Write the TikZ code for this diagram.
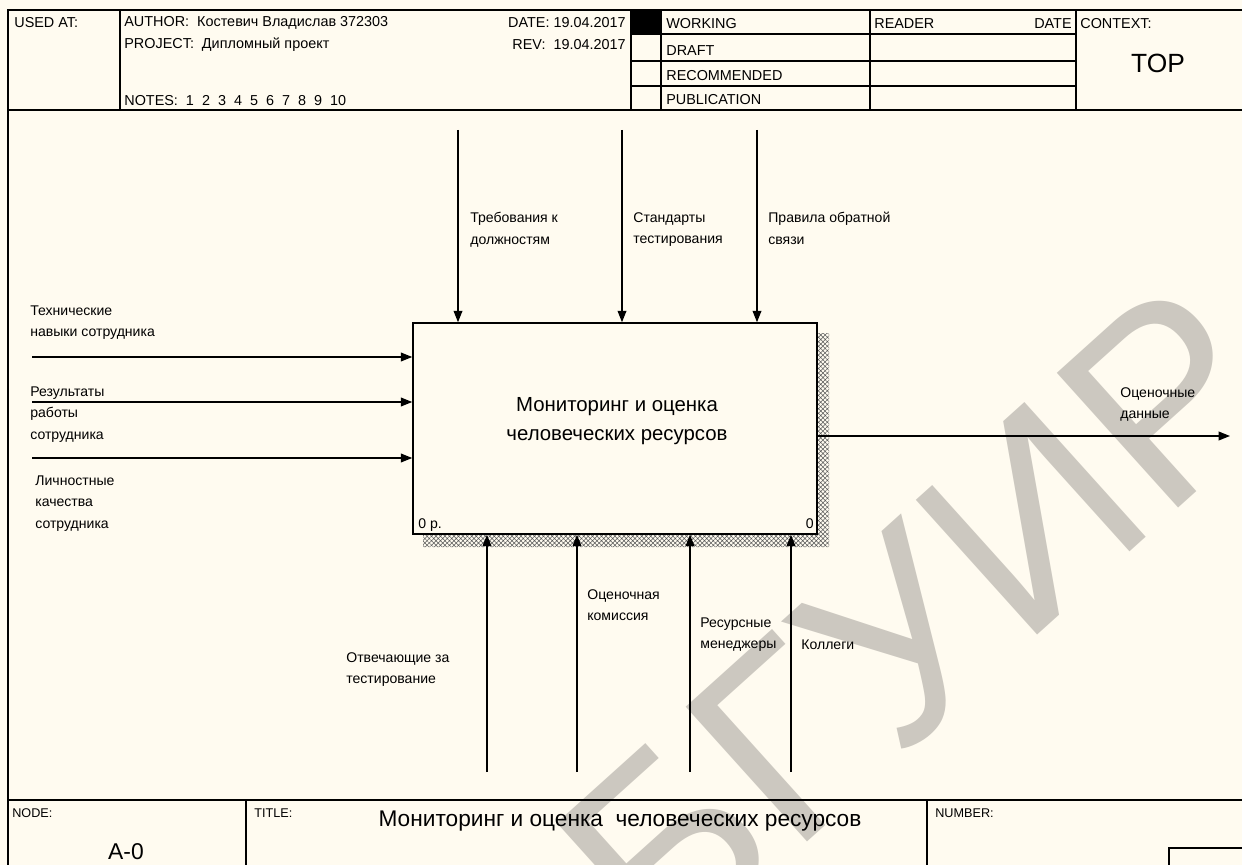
\documentclass[tikz,border=0pt]{standalone}
\usepackage{fontspec}
\setmainfont{Liberation Sans}
\usepackage{tikz}
\usetikzlibrary{arrows.meta, patterns.meta, positioning, calc}
\definecolor{paper}{RGB}{255,251,240}
\definecolor{stamp}{RGB}{204,200,192}
\tikzset{>={Triangle[length=6.5pt,width=5pt]}}
\tikzset{frame/.style={line width=1.1pt}}
\tikzset{rule/.style={line width=0.8pt}}
\tikzset{arr/.style={->, line width=0.75pt}}
\tikzset{lbl/.style={anchor=north west, inner sep=0pt, align=left,
    font=\fontsize{8}{12.4}\selectfont}}
\tikzset{hdr/.style={anchor=west, inner sep=0pt, font=\fontsize{8.2}{10}\selectfont}}
\tikzset{ftr/.style={anchor=west, inner sep=0pt, font=\fontsize{7.2}{9}\selectfont}}

\begin{document}
\begin{tikzpicture}[x=0.02cm, y=-0.02cm]
  \useasboundingbox (0,0) rectangle (1242,865);
  \fill[paper] (0,0) rectangle (1242,865);
  % watermark
  \node[stamp, rotate=42, inner sep=0pt, font=\fontsize{150}{150}\selectfont]
    (stampword) at (918,622) {БГУИР};

  % header
  \draw[frame] (8,865) -- (8,10) -- (1242,10);
  \draw[frame] (8,110) -- (1242,110);
  \draw[rule] (120,10) -- (120,110);
  \draw[rule] (631,10) -- (631,110);
  \draw[rule] (661,10) -- (661,110);
  \draw[rule] (870,10) -- (870,110);
  \draw[rule] (1076,10) -- (1076,110);
  \foreach \y in {34,61,86} \draw[rule] (631,\y) -- (1076,\y);
  \fill (631,10) rectangle (661,34);
  \node[hdr] (usedat) at (14,23) {USED AT:};
  \node[hdr] (author) at (124,23) {AUTHOR:\ \ Костевич Владислав 372303};
  \node[hdr] (project) at (124,45) {PROJECT:\ \ Дипломный проект};
  \node[hdr] (notes) at (124,101) {NOTES:\ \ 1\ \ 2\ \ 3\ \ 4\ \ 5\ \ 6\ \ 7\ \ 8\ \ 9\ \ 10};
  \node[hdr, anchor=east] (date) at (626,23) {DATE: 19.04.2017};
  \node[hdr, anchor=east] (rev) at (626,45) {REV:\ \ 19.04.2017};
  \node[hdr] (working) at (666,24) {WORKING};
  \node[hdr] (draft) at (666,51) {DRAFT};
  \node[hdr] (recommended) at (666,76) {RECOMMENDED};
  \node[hdr] (publication) at (666,100) {PUBLICATION};
  \node[hdr] (reader) at (874,24) {READER};
  \node[hdr, anchor=east] (rdate) at (1072,24) {DATE};
  \node[hdr] (context) at (1080,24) {CONTEXT:};
  \node[inner sep=0pt, font=\fontsize{15}{18}\selectfont] (top) at (1158,63) {TOP};

  % function box
  \fill[pattern={Hatch[angle=45,distance=1.8pt,line width=0.3pt]}, pattern color=black!65]
    (423,534) -- (817,534) -- (817,333) -- (829,333) -- (829,547) -- (423,547) -- cycle;
  \node[draw, fill=paper, line width=0.9pt, minimum width=8.08cm, minimum height=4.22cm]
    (fn) at (615,428.5) {};
  \node[align=center, inner sep=0pt, font=\fontsize{11.6}{16.8}\selectfont]
    (fntext) at (617,421) {Мониторинг и оценка\\человеческих ресурсов};
  \node[inner sep=0pt, anchor=base west, font=\fontsize{8}{10}\selectfont] (cost) at (418,528) {0 р.};
  \node[inner sep=0pt, anchor=base east, font=\fontsize{8}{10}\selectfont] (num) at (814,528) {0};

  % controls
  \coordinate (c1) at (458,130);
  \coordinate (c2) at (622,130);
  \coordinate (c3) at (757,130);
  \draw[arr] (c1) -- (c1 |- fn.north);
  \draw[arr] (c2) -- (c2 |- fn.north);
  \draw[arr] (c3) -- (c3 |- fn.north);
  \node[lbl] (ct1) at (470,212) {Требования к\\должностям};
  \node[lbl] (ct2) at (633,212) {Стандарты\\тестирования};
  \node[lbl] (ct3) at (768,212) {Правила обратной\\связи};

  % inputs
  \coordinate (i1) at (32,357);
  \coordinate (i2) at (32,402);
  \coordinate (i3) at (32,458);
  \draw[arr] (i1) -- (i1 -| fn.west);
  \draw[arr] (i2) -- (i2 -| fn.west);
  \draw[arr] (i3) -- (i3 -| fn.west);
  \node[lbl] (it1) at (30,305) {Технические\\навыки сотрудника};
  \node[lbl] (it2) at (30,386) {Результаты\\работы\\сотрудника};
  \node[lbl] (it3) at (35,475) {Личностные\\качества\\сотрудника};

  % output
  \coordinate (o1) at (1230,436);
  \draw[arr] (o1 -| fn.east) -- (o1);
  \node[lbl] (ot1) at (1120,387) {Оценочные\\данные};

  % mechanisms
  \coordinate (m1) at (487,772);
  \coordinate (m2) at (577,772);
  \coordinate (m3) at (690,772);
  \coordinate (m4) at (791,772);
  \draw[arr] (m1) -- (m1 |- fn.south);
  \draw[arr] (m2) -- (m2 |- fn.south);
  \draw[arr] (m3) -- (m3 |- fn.south);
  \draw[arr] (m4) -- (m4 |- fn.south);
  \node[lbl] (mt1) at (346,652) {Отвечающие за\\тестирование};
  \node[lbl] (mt2) at (587,589) {Оценочная\\комиссия};
  \node[lbl] (mt3) at (700,617) {Ресурсные\\менеджеры};
  \node[lbl] (mt4) at (801,639) {Коллеги};

  % footer
  \draw[frame] (8,800) -- (1242,800);
  \draw[rule] (246,800) -- (246,865);
  \draw[rule] (927,800) -- (927,865);
  \draw[rule] (1169,865) -- (1169,848) -- (1242,848);
  \node[ftr] (nodelbl) at (12,813) {NODE:};
  \node[ftr] (titlelbl) at (254,813) {TITLE:};
  \node[ftr] (numberlbl) at (935,813) {NUMBER:};
  \node[inner sep=0pt, font=\fontsize{13}{15}\selectfont] (nodeid) at (126,852) {A-0};
  \node[inner sep=0pt, font=\fontsize{12.9}{15}\selectfont] (title) at (620,821)
    {Мониторинг и оценка\ \ человеческих ресурсов};
\end{tikzpicture}
\end{document}
